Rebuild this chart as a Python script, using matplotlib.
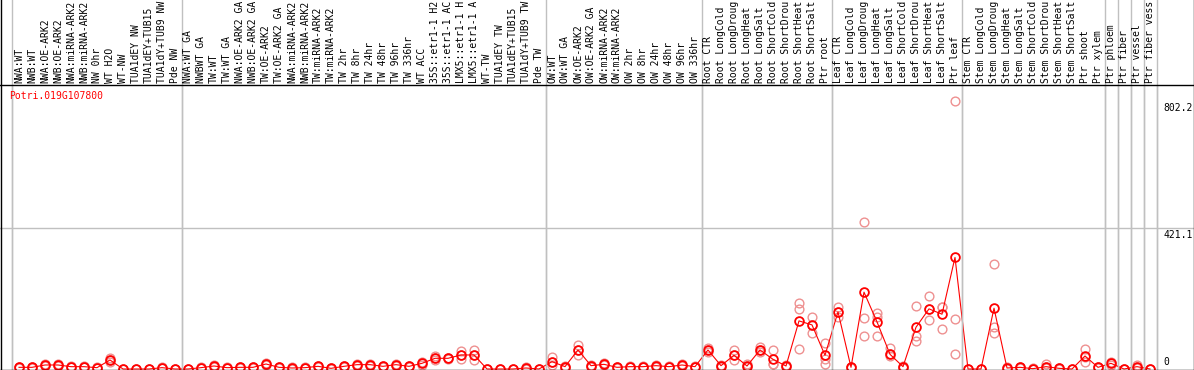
import matplotlib
matplotlib.use("Agg")
import matplotlib.pyplot as plt
import matplotlib.transforms as mtransforms
import numpy as np

# sample labels as shown (cut to the width of the label band), one list per group
nw_labels = ["NWA:WT", "NWB:WT", "NWA:OE-ARK2", "NWB:OE-ARK2", "NWA:miRNA-ARK2",
             "NWB:miRNA-ARK2", "NW 0hr", "WT H2O", "WT-NW", "TUA1dEY NW",
             "TUA1dEY+TUB15", "TUA1dY+TUB9 NW", "Pde NW"]
tw_labels = ["NWA:WT GA", "NWBWT GA", "TW:WT", "TW:WT GA", "NWA:OE-ARK2 GA",
             "NWB:OE-ARK2 GA", "TW:OE-ARK2", "TW:OE-ARK2 GA", "NWA:miRNA-ARK2",
             "NWB:miRNA-ARK2", "TW:miRNA-ARK2", "TW:miRNA-ARK2", "TW 2hr", "TW 8hr",
             "TW 24hr", "TW 48hr", "TW 96hr", "TW 336hr", "WT ACC", "35S::etr1-1 H2",
             "35S::etr1-1 AC", "LMX5::etr1-1 H", "LMX5::etr1-1 A", "WT-TW",
             "TUA1dEY TW", "TUA1dEY+TUB15", "TUA1dY+TUB9 TW", "Pde TW"]
ow_labels = ["OW:WT", "OW:WT GA", "OW:OE-ARK2", "OW:OE-ARK2 GA", "OW:miRNA-ARK2",
             "OW:miRNA-ARK2", "OW 2hr", "OW 8hr", "OW 24hr", "OW 48hr", "OW 96hr", "OW 336hr"]
root_labels = ["Root CTR", "Root LongCold", "Root LongDroug", "Root LongHeat",
               "Root LongSalt", "Root ShortCold", "Root ShortDrou", "Root ShortHeat",
               "Root ShortSalt", "Ptr root"]
leaf_labels = ["Leaf CTR", "Leaf LongCold", "Leaf LongDroug", "Leaf LongHeat",
               "Leaf LongSalt", "Leaf ShortCold", "Leaf ShortDrou", "Leaf ShortHeat",
               "Leaf ShortSalt", "Ptr leaf"]
stem_labels = ["Stem CTR", "Stem LongCold", "Stem LongDroug", "Stem LongHeat",
               "Stem LongSalt", "Stem ShortCold", "Stem ShortDrou", "Stem ShortHeat",
               "Stem ShortSalt", "Ptr shoot", "Ptr xylem"]
ptr_labels = [["Ptr phloem"], ["Ptr fiber"], ["Ptr vessel"], ["Ptr fiber vess"]]

# mean expression per sample
nw_means = [5, 5, 12, 12, 7, 7, 4, 27, 0, 0, 0, 4, 0]
tw_means = [0, 4, 9, 4, 5, 5, 15, 5, 3, 4, 8, 2, 8, 13, 13, 8, 13, 8, 17, 32, 32,
            42, 42, 0, 0, 0, 3, 0]
ow_means = [22, 7, 57, 10, 14, 5, 7, 7, 10, 7, 12, 7]
root_means = [57, 10, 41, 9, 57, 29, 9, 144, 132, 41]
leaf_means = [171, 5, 230, 141, 44, 7, 125, 180, 164, 334]
stem_means = [0, 0, 182, 3, 5, 1, 7, 2, 0, 39, 5]
ptr_means = [17, 0, 7, 0]

# replicate values per sample
nw_reps = [[3, 6, 6], [4, 5, 6], [8, 12, 16], [8, 12, 16], [5, 7, 9], [5, 7, 9],
           [2, 4, 6], [20, 27, 34], [0, 0], [0, 0], [0, 0], [2, 4, 6], [0, 0]]
tw_reps = [[0, 0], [2, 4, 6], [6, 9, 12], [2, 4, 6], [3, 5, 7], [3, 5, 7],
           [12, 15, 18], [3, 5, 7], [1, 3, 5], [2, 4, 6], [6, 8, 10], [0, 2, 4],
           [6, 8, 10], [10, 13, 16], [10, 13, 16], [6, 8, 10], [10, 13, 16], [6, 8, 10],
           [12, 17, 22], [26, 32, 38], [30, 32, 34], [30, 42, 55], [28, 42, 57],
           [0, 0], [0, 0], [0, 0], [1, 3, 5], [0, 0]]
ow_reps = [[12, 22, 37], [4, 7, 10], [42, 57, 72], [7, 10, 13], [11, 14, 17],
           [3, 5, 7], [5, 7, 9], [5, 7, 9], [7, 10, 13], [5, 7, 9], [9, 12, 15], [5, 7, 9]]
root_reps = [[52, 57, 62], [7, 10, 13], [27, 41, 57], [6, 9, 15], [50, 57, 66],
             [15, 15, 57], [6, 9, 12], [60, 180, 197], [108, 132, 156], [15, 30, 78]]
leaf_reps = [[156, 171, 186], [3, 5, 7], [99, 153, 440], [99, 156, 168], [39, 44, 63],
             [4, 7, 10], [84, 99, 189], [147, 180, 218], [120, 186, 186], [45, 150, 802.2]]
stem_reps = [[0, 0], [0, 0], [107, 127, 313], [1, 3, 5], [3, 5, 7], [0, 1, 2],
             [2, 5, 14], [1, 2, 3], [0, 0], [22, 36, 59], [3, 5, 7]]
ptr_reps = [[12, 17, 22], [0, 0], [3, 7, 11], [0, 0]]

gene_id = "Potri.019G107800"
y_ticks = [0, 421.1, 802.2]

groups = [nw_labels, tw_labels, ow_labels, root_labels, leaf_labels, stem_labels] + ptr_labels
labels = [l for g in groups for l in g]
means = nw_means + tw_means + ow_means + root_means + leaf_means + stem_means + ptr_means
reps = nw_reps + tw_reps + ow_reps + root_reps + leaf_reps + stem_reps + ptr_reps

# pixel layout of the reference
W, H = 1194, 370
first_px, step_px = 19, 13
zero_px, px_per_unit = 369, 0.3341
label_line_px = 85

RED = "#ff0000"
PINK = "#ee9090"
GRID = "#c0c0c0"
MONO = "DejaVu Sans Mono"

fig = plt.figure(figsize=(W / 100, H / 100), dpi=100)
ax = fig.add_axes([0, 0, 1, 1])
ax.set_axis_off()
ax.set_xlim(-first_px / step_px, (W - first_px) / step_px)
ax.set_ylim(-(H - zero_px) / px_per_unit, zero_px / px_per_unit)

# group separators and gridline
edges = np.cumsum([0] + [len(g) for g in groups]) - 0.5
for e in edges:
    ax.axvline(e, color=GRID, lw=1, zorder=1)
ax.axhline(y_ticks[1], color=GRID, lw=1, zorder=1)

x = np.arange(len(labels))
for i, r in enumerate(reps):
    ax.plot([i] * len(r), r, "o", mfc="none", mec=PINK, ms=6.3, mew=1.0, zorder=2)
ax.plot(x, means, "-", color=RED, lw=0.8, zorder=3)
ax.plot(x, means, "o", mfc="none", mec=RED, ms=6.3, mew=1.3, zorder=4)

# white label band over the data region
ax.axhspan(zero_px / px_per_unit - label_line_px / px_per_unit, zero_px / px_per_unit,
           color="white", zorder=5)
for e in edges:
    ax.axvline(e, color=GRID, lw=1, zorder=6)

trans = mtransforms.blended_transform_factory(ax.transData, ax.transAxes)
for i, lab in enumerate(labels):
    ax.text(i, 1 - 83 / H, lab, rotation=90, ha="center", va="bottom",
            transform=trans, fontsize=7, family=MONO, zorder=7)

# frame lines
frame_kw = dict(color="black", lw=1, transform=ax.transAxes, clip_on=False, zorder=8)
ax.plot([0, 1], [1 - label_line_px / H] * 2, **frame_kw)
ax.plot([0, 1], [1 - 369.5 / H] * 2, **frame_kw)
ax.plot([0.5 / W] * 2, [0, 1], **frame_kw)
ax.plot([1 - 0.5 / W] * 2, [0, 1], **frame_kw)

ax.text(9 / W, 1 - 91 / H, gene_id, color=RED, fontsize=7, family=MONO,
        ha="left", va="top", transform=ax.transAxes, zorder=8)

# right-side scale labels
rtrans = mtransforms.blended_transform_factory(ax.transAxes, ax.transData)
for t in y_ticks:
    if t == 0:
        ax.text(1163 / W, t + 4 / px_per_unit, "0", fontsize=7, family=MONO,
                ha="left", va="baseline", transform=rtrans, zorder=8)
    else:
        ax.text(1163 / W, t - 2 / px_per_unit, f"{t:.1f}", fontsize=7, family=MONO,
                ha="left", va="top", transform=rtrans, zorder=8)

fig.savefig("out.png", dpi=100)
